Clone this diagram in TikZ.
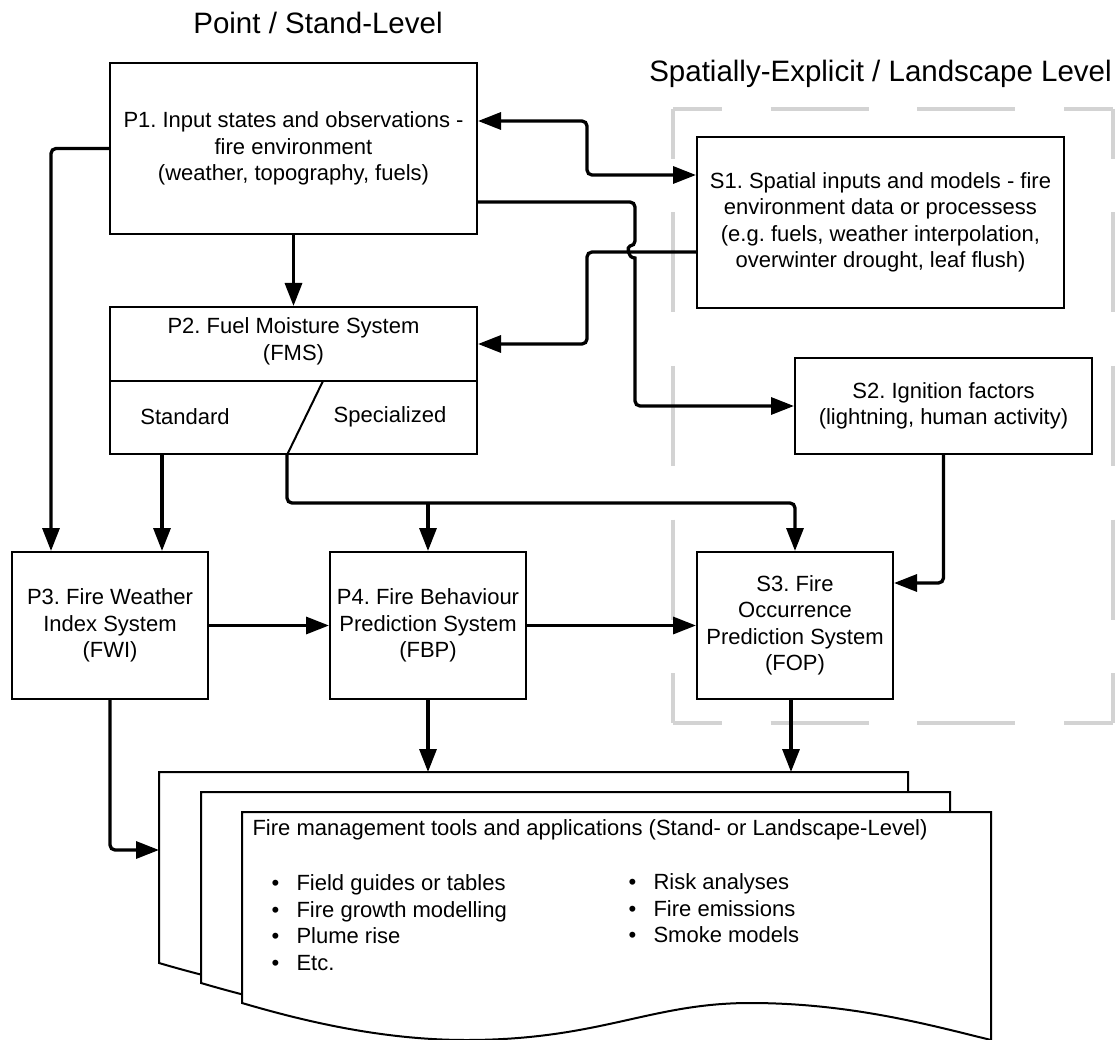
\documentclass[tikz,border=0pt]{standalone}
\usepackage{fontspec}
\setmainfont{Liberation Sans}
\frenchspacing
\usetikzlibrary{positioning, arrows.meta}
\definecolor{zonegray}{RGB}{211,211,211}
\newcommand{\boxfont}{\fontsize{22}{26.5}\selectfont}
\newcommand{\titlefont}{\fontsize{29.5}{35}\selectfont}
\newcommand{\bul}{\makebox[25pt][l]{\textbullet}}
\tikzset{
    >={Triangle[length=23pt, width=17pt]}, % Solid arrowheads
    box/.style={draw, line width=2pt, fill=white, align=center, inner sep=0pt, font=\boxfont}, % Process boxes
    conn/.style={->, line width=3.3pt, rounded corners=5pt}, % Connectors
    zone/.style={draw=zonegray, line width=4.5pt}, % Landscape-level frame
    heading/.style={font=\titlefont, anchor=base}, % Column titles
    docstyle/.style={draw, line width=2pt, fill=white}, % Document pages
    docpage/.pic={
        \path[docstyle] (0,0) -- (749,0) -- (749,228)
            .. controls (688,213) and (608,191) .. (508,191)
            .. controls (408,191) and (358,228) .. (224,228)
            .. controls (138,228) and (58,208) .. (0,191) -- cycle;
    },
}

\begin{document}
\begin{tikzpicture}[x=1pt, y=-1pt, node distance=100pt, on grid]
    \useasboundingbox (0,0) rectangle (1119,1040);

    % landscape-level frame
    \coordinate (zonenw) at (673,109);
    \coordinate (zonese) at (1113,723);
    \draw[zone, dash pattern=on 98pt off 48.7pt, dash phase=49pt]
        (zonenw) -- (zonenw -| zonese)
        (zonenw |- zonese) -- (zonese);
    \draw[zone, dash pattern=on 100pt off 53.5pt, dash phase=50pt]
        (zonenw) -- (zonenw |- zonese)
        (zonenw -| zonese) -- (zonese);

    \node[heading] (pointtitle) at (318,33.3) {Point / Stand-Level};
    \node[heading] (landtitle) at (880.5,81.7) {Spatially-Explicit / Landscape Level};

    \node[box, minimum width=367pt, minimum height=171pt] (p1) at (293.5,148.5) {P1. Input states and observations -\\fire environment\\(weather, topography, fuels)};
    \node[box, minimum width=367pt, minimum height=147pt] (p2) [below=232pt of p1] {};
    \node[box, minimum width=367pt, minimum height=171pt] (s1) at (880.5,222.5) {S1. Spatial inputs and models - fire\\environment data or processess\\(e.g. fuels, weather interpolation,\\overwinter drought, leaf flush)};
    \node[box, minimum width=297pt, minimum height=96pt] (s2) at (943.5,406) {S2. Ignition factors\\(lightning, human activity)};
    \node[box, minimum width=196pt, minimum height=147pt] (p3) at (110,625.5) {P3. Fire Weather\\Index System\\(FWI)};
    \node[box, minimum width=196pt, minimum height=147pt] (p4) [right=318pt of p3] {P4. Fire Behaviour\\Prediction System\\(FBP)};
    \node[box, minimum width=196pt, minimum height=147pt] (s3) [right=367pt of p4] {S3. Fire\\Occurrence\\Prediction System\\(FOP)};

    % split of the fuel moisture box
    \draw[line width=2pt] (p2.west |- 0,381) -- (p2.east |- 0,381);
    \draw[line width=2pt] (323,381) -- (287,0 |- p2.south);
    \node[font=\boxfont, align=center] (fms) at (293.5,341.5) {P2. Fuel Moisture System\\(FMS)};
    \node[font=\boxfont] (standard) at (185,417) {Standard};
    \node[font=\boxfont] (specialized) at (390,417) {Specialized};

    % stacked documents
    \pic at (159,772) {docpage};
    \pic at (201,792) {docpage};
    \pic at (242,812) {docpage};
    \coordinate (backpage) at (159,772);
    \node[font=\boxfont, anchor=west] (doctitle) at (249,830) {Fire management tools and applications (Stand- or Landscape-Level)};
    \node[font=\boxfont, anchor=west, align=left] (leftlist) at (268,922.5) {\bul Field guides or tables\\\bul Fire growth modelling\\\bul Plume rise\\\bul Etc.};
    \node[font=\boxfont, anchor=west, align=left] (rightlist) at (625,908.5) {\bul Risk analyses\\\bul Fire emissions\\\bul Smoke models};

    % connectors
    \draw[conn] (p1) -- (p2);
    \draw[conn] (p1.west) -| (51,0 |- p3.north);
    \draw[conn, <->] (p1.east |- 0,121) -| (587,148) |- (s1.west |- 0,175);
    \draw[conn] (p1.east |- 0,202) -- (635,202) -- (635,246) [sharp corners]
        .. controls (627,246) and (627,258) .. (635,258) [rounded corners=5pt]
        -- (635,0 |- s2.west) -- (s2.west);
    \draw[conn] (s1.west |- 0,252) -| (587,300) |- (p2.east |- 0,344);
    \draw[conn] (162,0 |- p2.south) -- (162,0 |- p3.north);
    \draw[conn] (287,0 |- p2.south) |- (s3.north |- 0,503) -- (s3.north);
    \draw[conn] (p4.north |- 0,503) -- (p4.north);
    \draw[conn] (s2.south) |- (s3.east |- 0,583);
    \draw[conn] (p3) -- (p4);
    \draw[conn] (p4) -- (s3);
    \draw[conn] (p4.south) -- (p4.south |- backpage);
    \draw[conn] (791,0 |- s3.south) -- (791,0 |- backpage);
    \draw[conn] (p3.south) |- (backpage |- 0,850);
\end{tikzpicture}
\end{document}
